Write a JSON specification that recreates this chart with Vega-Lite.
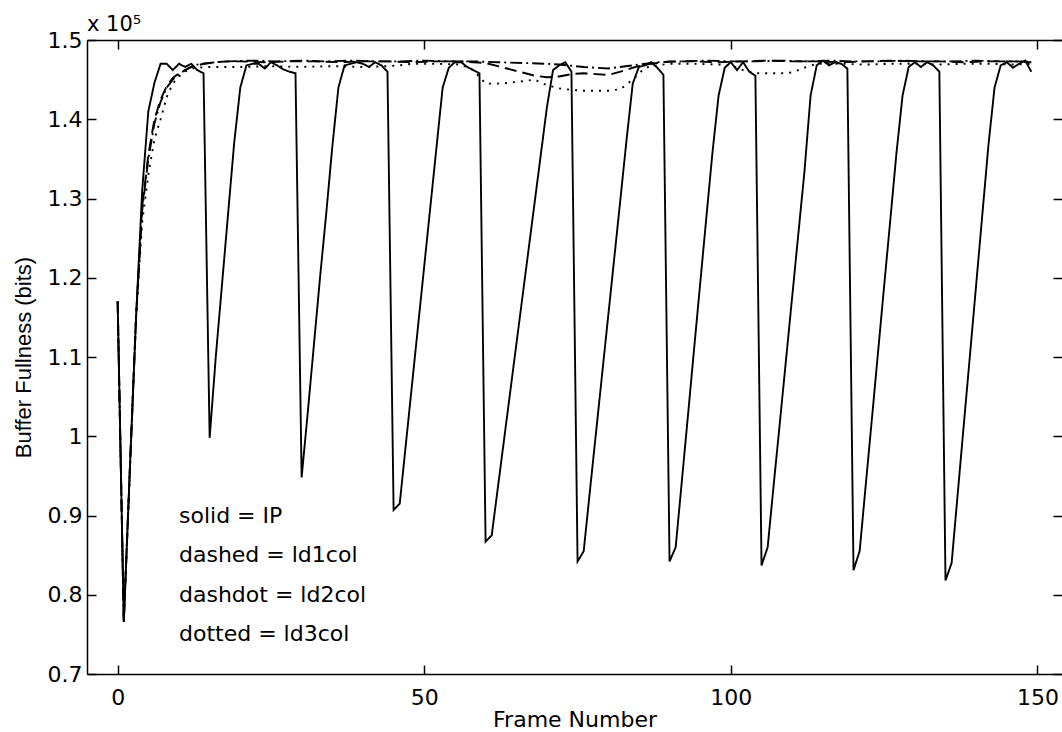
{
  "$schema": "https://vega.github.io/schema/vega-lite/v6.json",
  "autosize": {"type": "none"},
  "padding": {"left": 87, "top": 40, "right": 0, "bottom": 58},
  "width": 975,
  "height": 634,
  "background": "white",
  "title": {"text": "x 10⁵", "anchor": "start", "frame": "group", "font": "DejaVu Sans", "fontSize": 21, "fontWeight": "normal", "color": "black", "offset": 6, "dy": 12},
  "config": {
    "view": {"stroke": null},
    "axis": {"grid": false, "domainColor": "black", "tickColor": "black", "labelColor": "black", "titleColor": "black", "labelFont": "DejaVu Sans", "titleFont": "DejaVu Sans", "labelFontSize": 22, "titleFontSize": 22, "titleFontWeight": "normal", "domainWidth": 1.5, "tickWidth": 1.5}
  },
  "datasets": {
    "curves": [
      {"s":"IP","f":0,"v":117000},{"s":"IP","f":1,"v":76600},{"s":"IP","f":2,"v":96000},{"s":"IP","f":3,"v":115000},{"s":"IP","f":4,"v":131000},{"s":"IP","f":5,"v":141000},{"s":"IP","f":6,"v":144600},{"s":"IP","f":7,"v":147000},{"s":"IP","f":8,"v":147000},{"s":"IP","f":9,"v":146200},
      {"s":"IP","f":10,"v":147000},{"s":"IP","f":11,"v":146600},{"s":"IP","f":12,"v":147000},{"s":"IP","f":13,"v":146200},{"s":"IP","f":14,"v":145800},{"s":"IP","f":15,"v":99800},{"s":"IP","f":16,"v":110000},{"s":"IP","f":17,"v":119000},{"s":"IP","f":18,"v":128000},{"s":"IP","f":19,"v":137000},
      {"s":"IP","f":20,"v":144000},{"s":"IP","f":21,"v":146800},{"s":"IP","f":22,"v":147000},{"s":"IP","f":23,"v":147000},{"s":"IP","f":24,"v":146400},{"s":"IP","f":25,"v":147200},{"s":"IP","f":26,"v":146800},{"s":"IP","f":27,"v":146300},{"s":"IP","f":28,"v":146000},{"s":"IP","f":29,"v":145800},
      {"s":"IP","f":30,"v":94800},{"s":"IP","f":31,"v":103000},{"s":"IP","f":32,"v":111500},{"s":"IP","f":33,"v":120000},{"s":"IP","f":34,"v":128000},{"s":"IP","f":35,"v":136500},{"s":"IP","f":36,"v":144000},{"s":"IP","f":37,"v":146800},{"s":"IP","f":38,"v":147000},{"s":"IP","f":39,"v":147200},
      {"s":"IP","f":40,"v":147000},{"s":"IP","f":41,"v":146600},{"s":"IP","f":42,"v":147200},{"s":"IP","f":43,"v":146800},{"s":"IP","f":44,"v":146000},{"s":"IP","f":45,"v":90700},{"s":"IP","f":46,"v":91500},{"s":"IP","f":47,"v":99000},{"s":"IP","f":48,"v":106500},{"s":"IP","f":49,"v":114000},
      {"s":"IP","f":50,"v":121500},{"s":"IP","f":51,"v":129000},{"s":"IP","f":52,"v":136500},{"s":"IP","f":53,"v":144000},{"s":"IP","f":54,"v":146500},{"s":"IP","f":55,"v":147200},{"s":"IP","f":56,"v":147200},{"s":"IP","f":57,"v":146600},{"s":"IP","f":58,"v":146200},{"s":"IP","f":59,"v":145800},
      {"s":"IP","f":60,"v":86700},{"s":"IP","f":61,"v":87500},{"s":"IP","f":62,"v":93500},{"s":"IP","f":63,"v":99500},{"s":"IP","f":64,"v":105500},{"s":"IP","f":65,"v":111500},{"s":"IP","f":66,"v":117500},{"s":"IP","f":67,"v":123500},{"s":"IP","f":68,"v":129500},{"s":"IP","f":69,"v":135500},
      {"s":"IP","f":70,"v":141500},{"s":"IP","f":71,"v":146200},{"s":"IP","f":72,"v":146800},{"s":"IP","f":73,"v":147200},{"s":"IP","f":74,"v":146000},{"s":"IP","f":75,"v":84200},{"s":"IP","f":76,"v":85500},{"s":"IP","f":77,"v":93000},{"s":"IP","f":78,"v":100400},{"s":"IP","f":79,"v":107800},
      {"s":"IP","f":80,"v":115200},{"s":"IP","f":81,"v":122600},{"s":"IP","f":82,"v":130000},{"s":"IP","f":83,"v":137500},{"s":"IP","f":84,"v":144500},{"s":"IP","f":85,"v":146600},{"s":"IP","f":86,"v":146800},{"s":"IP","f":87,"v":147200},{"s":"IP","f":88,"v":146500},{"s":"IP","f":89,"v":145600},
      {"s":"IP","f":90,"v":84200},{"s":"IP","f":91,"v":86000},{"s":"IP","f":92,"v":94300},{"s":"IP","f":93,"v":102600},{"s":"IP","f":94,"v":111000},{"s":"IP","f":95,"v":119300},{"s":"IP","f":96,"v":127600},{"s":"IP","f":97,"v":135800},{"s":"IP","f":98,"v":143000},{"s":"IP","f":99,"v":146500},
      {"s":"IP","f":100,"v":147200},{"s":"IP","f":101,"v":146200},{"s":"IP","f":102,"v":147200},{"s":"IP","f":103,"v":146000},{"s":"IP","f":104,"v":145500},{"s":"IP","f":105,"v":83700},{"s":"IP","f":106,"v":86000},{"s":"IP","f":107,"v":94000},{"s":"IP","f":108,"v":101800},{"s":"IP","f":109,"v":109700},
      {"s":"IP","f":110,"v":117600},{"s":"IP","f":111,"v":125500},{"s":"IP","f":112,"v":133400},{"s":"IP","f":113,"v":143000},{"s":"IP","f":114,"v":146800},{"s":"IP","f":115,"v":147400},{"s":"IP","f":116,"v":146800},{"s":"IP","f":117,"v":147200},{"s":"IP","f":118,"v":147000},{"s":"IP","f":119,"v":146400},
      {"s":"IP","f":120,"v":83100},{"s":"IP","f":121,"v":85500},{"s":"IP","f":122,"v":93900},{"s":"IP","f":123,"v":102200},{"s":"IP","f":124,"v":110600},{"s":"IP","f":125,"v":119000},{"s":"IP","f":126,"v":127300},{"s":"IP","f":127,"v":135700},{"s":"IP","f":128,"v":143000},{"s":"IP","f":129,"v":146600},
      {"s":"IP","f":130,"v":147200},{"s":"IP","f":131,"v":146600},{"s":"IP","f":132,"v":147200},{"s":"IP","f":133,"v":146800},{"s":"IP","f":134,"v":146000},{"s":"IP","f":135,"v":81800},{"s":"IP","f":136,"v":84000},{"s":"IP","f":137,"v":92800},{"s":"IP","f":138,"v":101600},{"s":"IP","f":139,"v":110300},
      {"s":"IP","f":140,"v":119100},{"s":"IP","f":141,"v":127900},{"s":"IP","f":142,"v":136700},{"s":"IP","f":143,"v":144000},{"s":"IP","f":144,"v":146800},{"s":"IP","f":145,"v":147200},{"s":"IP","f":146,"v":146500},{"s":"IP","f":147,"v":147000},{"s":"IP","f":148,"v":147400},{"s":"IP","f":149,"v":146000},

      {"s":"ld1col","f":0,"v":117000},{"s":"ld1col","f":1,"v":76600},{"s":"ld1col","f":2,"v":96000},{"s":"ld1col","f":3,"v":115000},{"s":"ld1col","f":4,"v":129000},{"s":"ld1col","f":5,"v":135500},{"s":"ld1col","f":6,"v":140000},{"s":"ld1col","f":7,"v":142500},{"s":"ld1col","f":8,"v":144200},{"s":"ld1col","f":9,"v":145200},
      {"s":"ld1col","f":10,"v":145800},{"s":"ld1col","f":11,"v":146200},{"s":"ld1col","f":12,"v":146600},{"s":"ld1col","f":13,"v":146800},{"s":"ld1col","f":14,"v":147000},{"s":"ld1col","f":15,"v":147100},{"s":"ld1col","f":16,"v":147200},{"s":"ld1col","f":18,"v":147300},{"s":"ld1col","f":20,"v":147300},{"s":"ld1col","f":24,"v":147200},
      {"s":"ld1col","f":28,"v":147300},{"s":"ld1col","f":32,"v":147300},{"s":"ld1col","f":36,"v":147200},{"s":"ld1col","f":40,"v":147300},{"s":"ld1col","f":44,"v":147300},{"s":"ld1col","f":48,"v":147200},{"s":"ld1col","f":52,"v":147300},{"s":"ld1col","f":56,"v":147300},{"s":"ld1col","f":58,"v":147200},{"s":"ld1col","f":60,"v":147100},
      {"s":"ld1col","f":62,"v":146700},{"s":"ld1col","f":64,"v":146300},{"s":"ld1col","f":66,"v":145900},{"s":"ld1col","f":68,"v":145500},{"s":"ld1col","f":70,"v":145300},{"s":"ld1col","f":72,"v":145400},{"s":"ld1col","f":74,"v":145700},{"s":"ld1col","f":76,"v":145800},{"s":"ld1col","f":78,"v":145700},{"s":"ld1col","f":80,"v":145600},
      {"s":"ld1col","f":82,"v":146000},{"s":"ld1col","f":84,"v":146500},{"s":"ld1col","f":86,"v":146900},{"s":"ld1col","f":88,"v":147100},{"s":"ld1col","f":90,"v":147300},{"s":"ld1col","f":94,"v":147300},{"s":"ld1col","f":98,"v":147200},{"s":"ld1col","f":102,"v":147300},{"s":"ld1col","f":106,"v":147400},{"s":"ld1col","f":110,"v":147300},
      {"s":"ld1col","f":114,"v":147300},{"s":"ld1col","f":118,"v":147200},{"s":"ld1col","f":122,"v":147300},{"s":"ld1col","f":126,"v":147400},{"s":"ld1col","f":130,"v":147300},{"s":"ld1col","f":134,"v":147300},{"s":"ld1col","f":138,"v":147200},{"s":"ld1col","f":142,"v":147300},{"s":"ld1col","f":146,"v":147300},{"s":"ld1col","f":149,"v":147200},

      {"s":"ld2col","f":0,"v":117000},{"s":"ld2col","f":1,"v":76600},{"s":"ld2col","f":2,"v":96000},{"s":"ld2col","f":3,"v":115000},{"s":"ld2col","f":4,"v":128500},{"s":"ld2col","f":5,"v":135000},{"s":"ld2col","f":6,"v":139500},{"s":"ld2col","f":7,"v":142200},{"s":"ld2col","f":8,"v":144000},{"s":"ld2col","f":9,"v":145000},
      {"s":"ld2col","f":10,"v":145700},{"s":"ld2col","f":11,"v":146200},{"s":"ld2col","f":12,"v":146600},{"s":"ld2col","f":13,"v":146900},{"s":"ld2col","f":14,"v":147000},{"s":"ld2col","f":16,"v":147200},{"s":"ld2col","f":18,"v":147300},{"s":"ld2col","f":22,"v":147400},{"s":"ld2col","f":26,"v":147300},{"s":"ld2col","f":30,"v":147400},
      {"s":"ld2col","f":34,"v":147300},{"s":"ld2col","f":38,"v":147400},{"s":"ld2col","f":42,"v":147300},{"s":"ld2col","f":46,"v":147300},{"s":"ld2col","f":50,"v":147400},{"s":"ld2col","f":54,"v":147300},{"s":"ld2col","f":58,"v":147300},{"s":"ld2col","f":62,"v":147200},{"s":"ld2col","f":66,"v":147100},{"s":"ld2col","f":70,"v":147000},
      {"s":"ld2col","f":72,"v":146900},{"s":"ld2col","f":76,"v":146600},{"s":"ld2col","f":80,"v":146400},{"s":"ld2col","f":84,"v":146800},{"s":"ld2col","f":88,"v":147200},{"s":"ld2col","f":92,"v":147300},{"s":"ld2col","f":96,"v":147400},{"s":"ld2col","f":100,"v":147300},{"s":"ld2col","f":104,"v":147300},{"s":"ld2col","f":108,"v":147400},
      {"s":"ld2col","f":112,"v":147300},{"s":"ld2col","f":116,"v":147400},{"s":"ld2col","f":120,"v":147300},{"s":"ld2col","f":124,"v":147300},{"s":"ld2col","f":128,"v":147400},{"s":"ld2col","f":132,"v":147300},{"s":"ld2col","f":136,"v":147300},{"s":"ld2col","f":140,"v":147400},{"s":"ld2col","f":144,"v":147300},{"s":"ld2col","f":149,"v":147300},

      {"s":"ld3col","f":0,"v":117000},{"s":"ld3col","f":1,"v":76600},{"s":"ld3col","f":2,"v":96000},{"s":"ld3col","f":3,"v":115000},{"s":"ld3col","f":4,"v":127000},{"s":"ld3col","f":5,"v":133000},{"s":"ld3col","f":6,"v":137500},{"s":"ld3col","f":7,"v":140000},{"s":"ld3col","f":8,"v":142800},{"s":"ld3col","f":9,"v":144500},
      {"s":"ld3col","f":10,"v":145400},{"s":"ld3col","f":11,"v":146000},{"s":"ld3col","f":12,"v":146400},{"s":"ld3col","f":13,"v":146500},{"s":"ld3col","f":15,"v":146600},{"s":"ld3col","f":20,"v":146600},{"s":"ld3col","f":25,"v":146700},{"s":"ld3col","f":30,"v":146600},{"s":"ld3col","f":35,"v":146700},{"s":"ld3col","f":40,"v":146600},
      {"s":"ld3col","f":44,"v":146700},{"s":"ld3col","f":46,"v":146800},{"s":"ld3col","f":48,"v":147000},{"s":"ld3col","f":52,"v":147000},{"s":"ld3col","f":56,"v":146900},{"s":"ld3col","f":58,"v":146200},{"s":"ld3col","f":60,"v":144500},{"s":"ld3col","f":62,"v":144500},{"s":"ld3col","f":64,"v":144600},{"s":"ld3col","f":66,"v":144800},
      {"s":"ld3col","f":68,"v":145000},{"s":"ld3col","f":70,"v":144300},{"s":"ld3col","f":72,"v":143900},{"s":"ld3col","f":74,"v":143700},{"s":"ld3col","f":76,"v":143600},{"s":"ld3col","f":78,"v":143600},{"s":"ld3col","f":80,"v":143600},{"s":"ld3col","f":82,"v":143800},{"s":"ld3col","f":84,"v":145000},{"s":"ld3col","f":86,"v":146500},
      {"s":"ld3col","f":88,"v":146800},{"s":"ld3col","f":90,"v":147000},{"s":"ld3col","f":94,"v":147000},{"s":"ld3col","f":98,"v":146900},{"s":"ld3col","f":100,"v":146800},{"s":"ld3col","f":102,"v":146200},{"s":"ld3col","f":104,"v":145800},{"s":"ld3col","f":106,"v":145800},{"s":"ld3col","f":108,"v":145800},{"s":"ld3col","f":110,"v":145900},
      {"s":"ld3col","f":112,"v":146500},{"s":"ld3col","f":114,"v":147000},{"s":"ld3col","f":118,"v":147000},{"s":"ld3col","f":122,"v":146900},{"s":"ld3col","f":126,"v":147000},{"s":"ld3col","f":130,"v":147000},{"s":"ld3col","f":134,"v":146900},{"s":"ld3col","f":138,"v":147000},{"s":"ld3col","f":142,"v":147000},{"s":"ld3col","f":146,"v":146900},{"s":"ld3col","f":149,"v":147000}
    ],
    "notes": [
      {"f": 10, "v": 90000, "label": "solid = IP"},
      {"f": 10, "v": 85000, "label": "dashed = ld1col"},
      {"f": 10, "v": 80000, "label": "dashdot = ld2col"},
      {"f": 10, "v": 75000, "label": "dotted = ld3col"}
    ]
  },
  "layer": [
    {
      "data": {"name": "curves"},
      "mark": {"type": "line", "color": "black", "strokeWidth": 1.9, "strokeCap": "butt", "clip": true},
      "encoding": {
        "x": {"field": "f", "type": "quantitative", "scale": {"domain": [-5, 154], "nice": false, "zero": false},
              "axis": {"orient": "bottom", "values": [0, 50, 100, 150], "tickSize": -9, "labelPadding": 22, "title": "Frame Number", "titlePadding": 1}},
        "y": {"field": "v", "type": "quantitative", "scale": {"domain": [70000, 150000], "nice": false, "zero": false},
              "axis": {"orient": "left", "values": [70000, 80000, 90000, 100000, 110000, 120000, 130000, 140000, 150000], "labelExpr": "format(datum.value / 100000, '.1~f')", "tickSize": -9, "labelPadding": 14, "title": "Buffer Fullness (bits)", "titleFont": "Liberation Sans", "titleFontSize": 22, "titlePadding": 12}},
        "strokeDash": {"field": "s", "type": "nominal", "scale": {"domain": ["IP", "ld1col", "ld2col", "ld3col"], "range": [[1, 0], [12, 6], [12, 4, 2, 4], [2, 6]]}, "legend": null}
      }
    },
    {
      "data": {"name": "notes"},
      "mark": {"type": "text", "align": "left", "baseline": "middle", "font": "DejaVu Sans", "fontSize": 22, "color": "black"},
      "encoding": {
        "x": {"field": "f", "type": "quantitative", "scale": {"domain": [-5, 154], "nice": false, "zero": false}, "axis": null},
        "y": {"field": "v", "type": "quantitative", "scale": {"domain": [70000, 150000], "nice": false, "zero": false}, "axis": null},
        "text": {"field": "label", "type": "nominal"}
      }
    },
    {
      "data": {"name": "notes"},
      "mark": {"type": "point", "opacity": 0},
      "encoding": {
        "x": {"field": "f", "type": "quantitative", "scale": {"domain": [-5, 154], "nice": false, "zero": false},
              "axis": {"orient": "top", "values": [0, 50, 100, 150], "tickSize": -9, "labels": false, "title": null}},
        "y": {"field": "v", "type": "quantitative", "scale": {"domain": [70000, 150000], "nice": false, "zero": false},
              "axis": {"orient": "right", "values": [70000, 80000, 90000, 100000, 110000, 120000, 130000, 140000, 150000], "tickSize": -9, "labels": false, "domain": false, "title": null}}
      }
    }
  ],
  "resolve": {"axis": {"x": "independent", "y": "independent"}}
}
